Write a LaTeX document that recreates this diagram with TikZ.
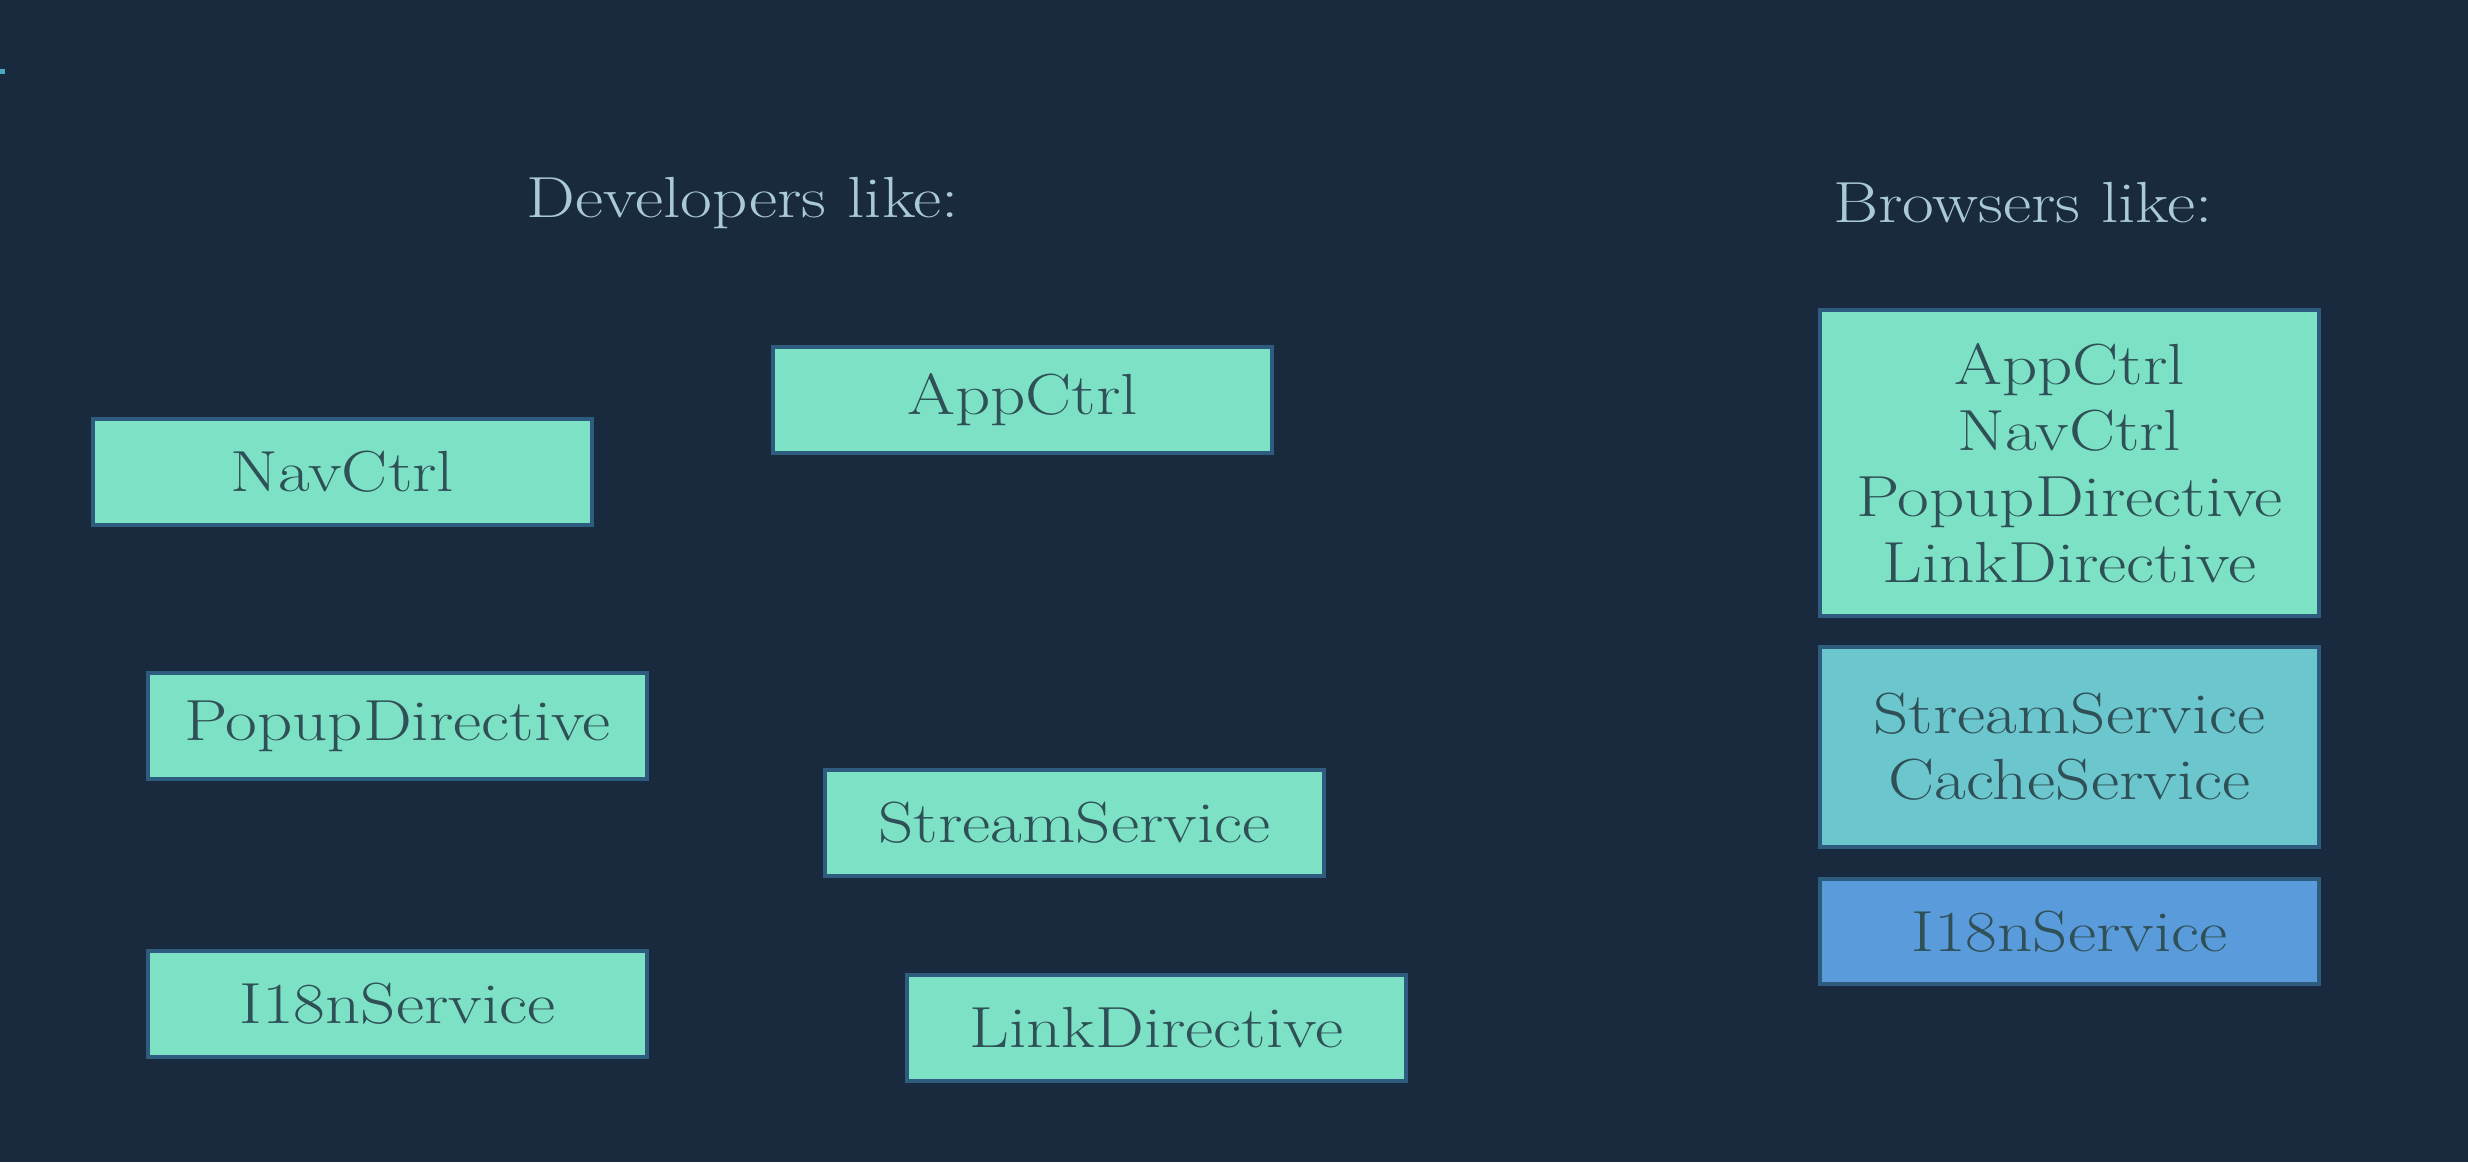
\documentclass[tikz,border=0pt]{standalone}
\usepackage{fontspec}
\setmainfont{Latin Modern Roman}[FakeStretch=1.19]
\usepackage{xcolor}
\definecolor{bg}{HTML}{1A2A3E}
\definecolor{mint}{HTML}{7DE2C5}
\definecolor{teal}{HTML}{6CC6CE}
\definecolor{bluebox}{HTML}{5A9BDB}
\definecolor{edge}{HTML}{2E5C7E}
\definecolor{boxtext}{HTML}{2F5057}
\definecolor{headtext}{HTML}{A9C9D9}
\definecolor{tick}{HTML}{4AA8C0}
\begin{document}
\begin{tikzpicture}[x=1pt,y=-1pt,
  modbox/.style={draw=edge, line width=4pt, fill=mint, text=boxtext,
    minimum width=499pt, minimum height=106pt, inner sep=0pt, align=center,
    font=\fontsize{58}{66}\selectfont, anchor=north west},
  heading/.style={text=headtext, font=\fontsize{58}{66}\selectfont, inner sep=0pt}]
\fill[bg] (0,0) rectangle (2468,1162);
\useasboundingbox (0,0) rectangle (2468,1162);
\fill[tick] (0,69) rectangle (5,74);
\node[heading] (devh) at (743,203) {Developers like:};
\node[heading] (broh) at (2023,203) {Browsers like:};
\node[modbox] (app) at (771,345) {AppCtrl};
\node[modbox] (nav) at (91,417) {NavCtrl};
\node[modbox] (popup) at (146,671) {PopupDirective};
\node[modbox] (stream) at (823,768) {StreamService};
\node[modbox] (i18n) at (146,949) {I18nService};
\node[modbox] (link) at (905,973) {LinkDirective};
\node[modbox, minimum height=306pt] (bundle1) at (1818,308) {AppCtrl\\NavCtrl\\PopupDirective\\LinkDirective};
\node[modbox, fill=teal, minimum height=200pt] (bundle2) at (1818,645) {StreamService\\CacheService};
\node[modbox, fill=bluebox, minimum height=105pt] (bundle3) at (1818,877) {I18nService};
\end{tikzpicture}
\end{document}
